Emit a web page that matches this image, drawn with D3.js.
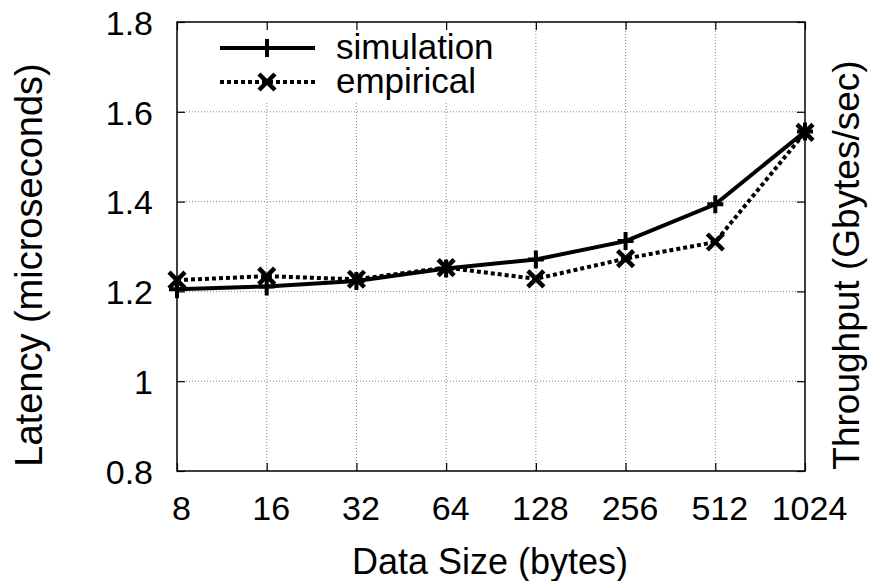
<html>
  <head>
    <title>Latency</title>
    <script type="text/javascript" src="https://cdn.jsdelivr.net/npm/d3@7"></script>
    <style>
      body { margin: 0; background: #fff; }
      text { font-family: "Liberation Sans", Arial, Helvetica, sans-serif; fill: #000; }
    </style>
  </head>
  <body>
    <script type="text/javascript">
// data
const sizes = ["8", "16", "32", "64", "128", "256", "512", "1024"];
const simulation = [1.205, 1.211, 1.223, 1.251, 1.271, 1.312, 1.394, 1.556];
const empirical = [1.225, 1.234, 1.227, 1.253, 1.228, 1.273, 1.310, 1.554];
const yTicks = [0.8, 1, 1.2, 1.4, 1.6, 1.8];
const seriesNames = ["simulation", "empirical"];

const w = 874;
const h = 581;
const pLeft = 177, pRight = 805, pTop = 22, pBottom = 471;
const fontSize = "34px";

const svg = d3.select("body")
  .append("svg")
  .attr("width", w)
  .attr("height", h);

let xScale = d3.scalePoint()
  .domain(sizes)
  .range([pLeft, pRight]);

let yScale = d3.scaleLinear()
  .domain([0.8, 1.8])
  .range([pBottom, pTop]);

// grid
const grid = svg.append("g");
grid.selectAll("line.gx")
  .data(sizes.slice(1, -1))
  .enter()
  .append("line")
  .attr("x1", d => xScale(d))
  .attr("x2", d => xScale(d))
  .attr("y1", pTop)
  .attr("y2", pBottom)
  .attr("stroke", "#888")
  .attr("stroke-width", 1)
  .attr("stroke-dasharray", "1,2");
grid.selectAll("line.gy")
  .data(yTicks.slice(1, -1))
  .enter()
  .append("line")
  .attr("x1", pLeft)
  .attr("x2", pRight)
  .attr("y1", d => yScale(d))
  .attr("y2", d => yScale(d))
  .attr("stroke", "#888")
  .attr("stroke-width", 1)
  .attr("stroke-dasharray", "1,2");

// legend background covers the grid
svg.append("rect")
  .attr("x", pLeft + 1)
  .attr("y", pTop + 1)
  .attr("width", 330)
  .attr("height", 78)
  .attr("fill", "#fff");

// axes, ticks pointing inward
let tick = 8;
svg.append("g")
  .attr("transform", "translate(" + pLeft + ",0)")
  .call(d3.axisLeft(yScale).tickValues(yTicks).tickSize(-tick).tickPadding(24)
    .tickFormat(d => d3.format("")(d)))
  .call(g => g.select(".domain").remove())
  .call(g => g.selectAll("text").attr("font-size", fontSize).attr("font-family", null).attr("dy", "0.36em"))
  .call(g => g.selectAll("line").attr("stroke-width", 1.2));
svg.append("g")
  .attr("transform", "translate(" + pRight + ",0)")
  .call(d3.axisRight(yScale).tickValues(yTicks).tickSize(-tick).tickFormat(""))
  .call(g => g.select(".domain").remove())
  .call(g => g.selectAll("line").attr("stroke-width", 1.2));
svg.append("g")
  .attr("transform", "translate(0," + pBottom + ")")
  .call(d3.axisBottom(xScale).tickSize(-tick).tickPadding(24))
  .call(g => g.select(".domain").remove())
  .call(g => g.selectAll("text").attr("font-size", fontSize).attr("font-family", null)
    .attr("dx", 4).attr("y", 49).attr("dy", 0))
  .call(g => g.selectAll("line").attr("stroke-width", 1.2));
svg.append("g")
  .attr("transform", "translate(0," + pTop + ")")
  .call(d3.axisTop(xScale).tickSize(-tick).tickFormat(""))
  .call(g => g.select(".domain").remove())
  .call(g => g.selectAll("line").attr("stroke-width", 1.2));

// frame
svg.append("rect")
  .attr("x", pLeft)
  .attr("y", pTop)
  .attr("width", pRight - pLeft)
  .attr("height", pBottom - pTop)
  .attr("fill", "none")
  .attr("stroke", "#000")
  .attr("stroke-width", 1.5);

// lines
let line = d3.line()
  .x((d, i) => xScale(sizes[i]))
  .y(d => yScale(d));

svg.append("path")
  .attr("d", line(empirical))
  .attr("fill", "none")
  .attr("stroke", "#000")
  .attr("stroke-width", 4)
  .attr("stroke-dasharray", "4,3");
svg.append("path")
  .attr("d", line(simulation))
  .attr("fill", "none")
  .attr("stroke", "#000")
  .attr("stroke-width", 4);

// markers
function plus(g, x, y) {
  g.append("path")
    .attr("d", "M" + (x - 8) + "," + y + "H" + (x + 8) + "M" + x + "," + (y - 9) + "V" + (y + 9))
    .attr("stroke", "#000")
    .attr("stroke-width", 4)
    .attr("fill", "none");
}
function cross(g, x, y) {
  const s = 8;
  g.append("path")
    .attr("d", "M" + (x - s) + "," + (y - s) + "L" + (x + s) + "," + (y + s) +
      "M" + (x - s) + "," + (y + s) + "L" + (x + s) + "," + (y - s))
    .attr("stroke", "#000")
    .attr("stroke-width", 4.5)
    .attr("fill", "none");
}
const marks = svg.append("g");
simulation.forEach((d, i) => plus(marks, xScale(sizes[i]), yScale(d)));
empirical.forEach((d, i) => cross(marks, xScale(sizes[i]), yScale(d)));

// legend
const legY = [48, 82];
svg.append("line")
  .attr("x1", 220).attr("x2", 315).attr("y1", legY[0]).attr("y2", legY[0])
  .attr("stroke", "#000").attr("stroke-width", 4);
plus(svg, 267, legY[0]);
svg.append("line")
  .attr("x1", 220).attr("x2", 315).attr("y1", legY[1]).attr("y2", legY[1])
  .attr("stroke", "#000").attr("stroke-width", 4).attr("stroke-dasharray", "4,3");
cross(svg, 267, legY[1]);
svg.selectAll("text.leg")
  .data(seriesNames)
  .enter()
  .append("text")
  .attr("x", 336)
  .attr("y", (d, i) => legY[i] + 11)
  .attr("font-size", "35px")
  .text(d => d);

// axis titles
svg.append("text")
  .attr("x", 490)
  .attr("y", 574)
  .attr("text-anchor", "middle")
  .attr("font-size", "36px")
  .text("Data Size (bytes)");
svg.append("text")
  .attr("transform", "translate(42,265) rotate(-90)")
  .attr("text-anchor", "middle")
  .attr("font-size", "38px")
  .text("Latency (microseconds)");
svg.append("text")
  .attr("transform", "translate(859,265) rotate(-90)")
  .attr("text-anchor", "middle")
  .attr("font-size", "37px")
  .text("Throughput (Gbytes/sec)");
    </script>
  </body>
</html>
